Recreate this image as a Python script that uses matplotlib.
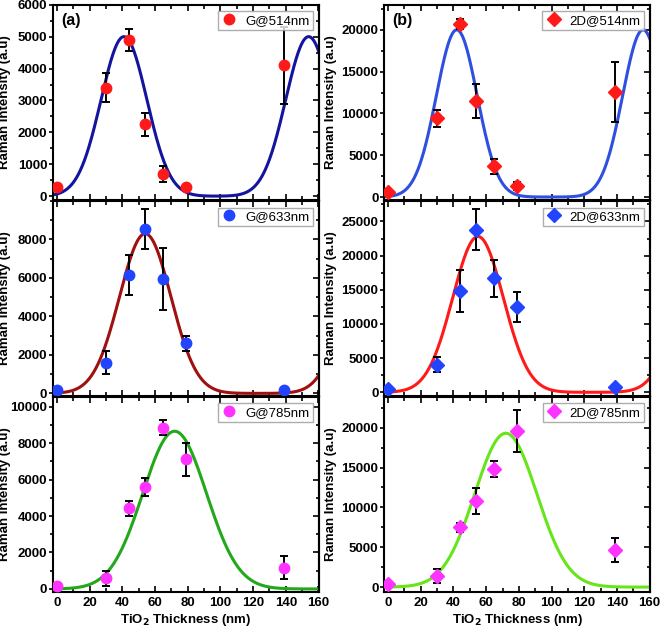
import matplotlib.pyplot as plt
import numpy as np
from matplotlib.ticker import MultipleLocator

plt.rcParams['font.family'] = ['Liberation Sans', 'DejaVu Sans']
plt.rcParams['font.weight'] = 'bold'

thick = [0, 30, 44, 54, 65, 79, 139]

g514 = [300, 3400, 4900, 2250, 700, 280, 4100]
g514_err = [90, 450, 350, 370, 250, 80, 1200]
d514 = [600, 9400, 20700, 11500, 3700, 1300, 12600]
d514_err = [400, 1000, 600, 2000, 900, 500, 3600]

g633 = [150, 1600, 6150, 8550, 5950, 2600, 200]
g633_err = [100, 600, 1050, 1050, 1600, 400, 100]
d633 = [500, 4000, 14800, 23800, 16700, 12500, 800]
d633_err = [300, 1100, 3100, 3000, 2700, 2200, 300]

g785 = [150, 580, 4420, 5600, 8850, 7120, 1170]
g785_err = [100, 420, 400, 500, 400, 900, 620]
d785 = [400, 1400, 7500, 10800, 14800, 19600, 4650]
d785_err = [300, 900, 600, 1600, 1000, 2600, 1500]

# fitted curve parameters: amplitude, centre, sigma, period
fit_g514 = [5000, 41, 14, 113]
fit_d514 = [20000, 42, 12.5, 114]
fit_g633 = [8300, 54, 15.7, 139]
fit_d633 = [22800, 55, 15.5, 139]
fit_g785 = [8650, 72, 19.5, 173]
fit_d785 = [19300, 72, 19, 173]


def fit_curve(x, p):
    a, c, s, per = p
    return a * (np.exp(-(x - c)**2 / (2 * s**2)) + np.exp(-(x - c - per)**2 / (2 * s**2)))


panels = [
    # row, col, values, errors, fit, label, marker, mcolor, lcolor, ylim, ymajor, ytop
    (0, 0, g514, g514_err, fit_g514, 'G@514nm', 'o', '#ff1a1a', '#14149e', (-120, 6000), 1000, 6000),
    (0, 1, d514, d514_err, fit_d514, '2D@514nm', 'D', '#ff1a1a', '#2f4fe0', (-360, 23000), 5000, 20000),
    (1, 0, g633, g633_err, fit_g633, 'G@633nm', 'o', '#2244ff', '#a01010', (-150, 10000), 2000, 8000),
    (1, 1, d633, d633_err, fit_d633, '2D@633nm', 'D', '#2244ff', '#ff1a1a', (-580, 28000), 5000, 25000),
    (2, 0, g785, g785_err, fit_g785, 'G@785nm', 'o', '#ff33ff', '#22a81a', (-160, 10550), 2000, 10000),
    (2, 1, d785, d785_err, fit_d785, '2D@785nm', 'D', '#ff33ff', '#66e619', (-600, 23900), 5000, 20000),
]

fig = plt.figure(figsize=(6.61, 6.31), dpi=100)
lefts = [0.080, 0.581]
width = 0.403
bottoms = [0.683, 0.372, 0.062]
height = 0.3095
label_x = [-0.158, -0.178]

xs = np.linspace(-2.5, 160.5, 600)

for row, col, vals, errs, fit, lab, mk, mcol, lcol, ylim, ymaj, ytop in panels:
    ax = fig.add_axes([lefts[col], bottoms[row], width, height])
    ax.plot(xs, fit_curve(xs, fit), color=lcol, lw=2.2, zorder=2)
    ax.errorbar(thick, vals, yerr=errs, fmt='none', ecolor='black', elinewidth=1.4,
                capsize=3, capthick=1.4, zorder=3)
    ms = 7.5 if mk == 'o' else 7
    ax.plot(thick, vals, linestyle='none', marker=mk, color=mcol, ms=ms,
            label=lab, zorder=4)
    ax.set_xlim(-2.5, 160.5)
    ax.set_ylim(*ylim)
    ax.xaxis.set_major_locator(MultipleLocator(20))
    ax.xaxis.set_minor_locator(MultipleLocator(10))
    ax.set_yticks(np.arange(0, ytop + 1, ymaj))
    ax.yaxis.set_minor_locator(MultipleLocator(ymaj / 2))
    ax.tick_params(axis='y', which='both', direction='out', left=True, right=False,
                   labelsize=9.5, width=1.2, pad=1)
    ax.tick_params(axis='y', which='major', length=3)
    ax.tick_params(axis='y', which='minor', length=2.5)
    ax.tick_params(axis='x', which='both', direction='in', top=True, labelsize=9.5, width=1.2)
    ax.tick_params(axis='x', which='major', length=4)
    ax.tick_params(axis='x', which='minor', length=3)
    # inward ticks on the right spine
    sec = ax.secondary_yaxis('right')
    sec.set_yticks(np.arange(0, ytop + 1, ymaj))
    sec.yaxis.set_minor_locator(MultipleLocator(ymaj / 2))
    sec.tick_params(which='both', direction='in', labelright=False, width=1.2)
    sec.tick_params(which='major', length=4)
    sec.tick_params(which='minor', length=2.5)
    for sp in ax.spines.values():
        sp.set_linewidth(1.5)
    sec.spines['right'].set_linewidth(1.5)
    ax.set_ylabel('Raman Intensity (a.u)', fontsize=9.5, fontweight='bold')
    ax.yaxis.set_label_coords(label_x[col], 0.5)
    if row < 2:
        ax.tick_params(axis='x', labelbottom=False)
    else:
        ax.set_xlabel('TiO$_\\mathbf{2}$ Thickness (nm)', fontsize=9.5, fontweight='bold', labelpad=2)
    leg = ax.legend(loc='upper right', frameon=True, fancybox=False,
                    handletextpad=0.6, borderpad=0.25, handlelength=1.2,
                    borderaxespad=0.5, prop={'weight': 'normal', 'size': 9.5})
    leg.get_frame().set_edgecolor('#999999')
    leg.get_frame().set_linewidth(1.0)
    if row == 0:
        ax.text(0.03, 0.96, '(a)' if col == 0 else '(b)', transform=ax.transAxes,
                fontsize=11.5, fontweight='bold', va='top', ha='left')

fig.savefig('out.png', dpi=100)
